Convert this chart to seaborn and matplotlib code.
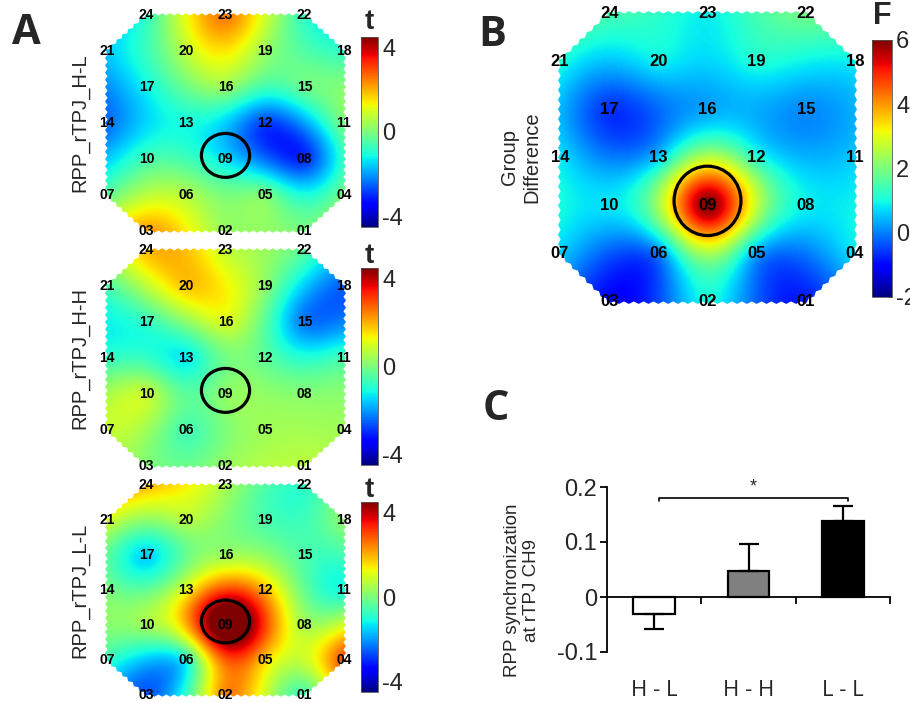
import numpy as np
import pandas as pd
import matplotlib
matplotlib.use("Agg")
import matplotlib.pyplot as plt
import seaborn as sns
from matplotlib.patches import Polygon, Ellipse

sns.set_theme(style="white")
plt.rcParams["font.family"] = ["Liberation Sans", "DejaVu Sans"]

# ---------------- data ----------------
channels = [f"{i:02d}" for i in range(1, 25)]
# grid layout of the 24 channels (column, row) on the probe
chan_col = [5, 3, 1, 6, 4, 2, 0, 5, 3, 1, 6, 4, 2, 0, 5, 3, 1, 6, 4, 2, 0, 5, 3, 1]
chan_row = [6, 6, 6, 5, 5, 5, 5, 4, 4, 4, 3, 3, 3, 3, 2, 2, 2, 1, 1, 1, 1, 0, 0, 0]

# t values per channel (01..24)
t_HL = [0.0, 0.3, 2.2, 0.0, 0.0, 0.6, -0.3, -3.0, -1.4, -0.6, 0.0, -2.8,
        -1.1, -2.4, -0.2, 0.3, -1.2, -0.8, 0.3, 0.7, -1.6, -0.8, 2.5, -0.8]
t_HH = [0.7, 0.3, 0.1, 0.4, 0.4, -0.6, 0.8, 0.1, 0.2, 0.8, -0.6, -0.3,
        -1.3, -0.8, -2.3, 1.0, -0.8, -2.5, 0.2, 1.8, -0.5, -0.4, 0.8, 1.9]
t_LL = [-0.6, 2.4, -2.6, 3.0, 1.7, -1.1, -0.8, 0.5, 5.6, 0.4, -1.0, 2.0,
        1.2, 0.0, -0.5, 0.4, -1.5, 0.2, -0.5, 0.6, 1.0, -0.8, 0.5, 1.9]
# F values per channel (group difference)
F_diff = [-0.8, 1.0, -1.0, 0.8, 0.3, 0.0, 0.6, 0.9, 6.0, 0.8, 0.6, 1.2,
          0.6, 0.8, 0.1, 0.3, -0.6, 0.9, 1.1, 0.9, 1.1, 1.9, 0.9, 1.5]

map_titles = ["RPP_rTPJ_H-L", "RPP_rTPJ_H-H", "RPP_rTPJ_L-L"]

groups = ["H-L", "H-H", "L-L"]
sync_mean = [-0.031, 0.047, 0.138]
sync_err = [0.027, 0.049, 0.027]
bar_colors = ["white", "#808080", "black"]

W, H = 910, 703
fig = plt.figure(figsize=(W / 100, H / 100), dpi=100)


def v4_interp(xc, yc, z, xi, yi):
    """Biharmonic spline interpolation (MATLAB griddata 'v4')."""
    p = np.asarray(xc, float) + 1j * np.asarray(yc, float)
    d = np.abs(p[:, None] - p[None, :])
    with np.errstate(divide="ignore", invalid="ignore"):
        G = np.where(d > 0, d ** 2 * (np.log(d) - 1), 0.0)
    w = np.linalg.solve(G, np.asarray(z, float))
    q = (xi + 1j * yi).ravel()
    di = np.abs(q[:, None] - p[None, :])
    with np.errstate(divide="ignore", invalid="ignore"):
        Gi = np.where(di > 0, di ** 2 * (np.log(di) - 1), 0.0)
    return (Gi @ w).reshape(xi.shape)


def zigzag_octagon(amp=0.05, step=0.1):
    corners = [(1, 0), (5, 0), (6, 1), (6, 5), (5, 6), (1, 6), (0, 5), (0, 1)]
    pts = []
    cx, cy = 3.0, 3.0
    for i in range(len(corners)):
        x0, y0 = corners[i]
        x1, y1 = corners[(i + 1) % len(corners)]
        L = np.hypot(x1 - x0, y1 - y0)
        n = max(int(L / step), 1)
        nx, ny = (y1 - y0) / L, -(x1 - x0) / L
        mx, my = (x0 + x1) / 2 - cx, (y0 + y1) / 2 - cy
        if nx * mx + ny * my < 0:
            nx, ny = -nx, -ny
        for k in range(n):
            t = k / n
            off = amp if k % 2 == 0 else -amp * 0.3
            pts.append((x0 + (x1 - x0) * t + nx * off, y0 + (y1 - y0) * t + ny * off))
    return pts


def draw_map(x0, x1, y0, y1, values, vmin, vmax, lab_fs, circ_w, circ_h, amp):
    m = 0.5
    sx = (x1 - x0) / 6
    sy = (y1 - y0) / 6
    left, right = x0 - m * sx, x1 + m * sx
    top, bottom = y0 - m * sy, y1 + m * sy
    ax = fig.add_axes([left / W, 1 - bottom / H, (right - left) / W, (bottom - top) / H])
    ax.patch.set_visible(False)
    ax.set_xlim(-m, 6 + m)
    ax.set_ylim(6 + m, -m)
    ax.axis("off")
    gx, gy = np.meshgrid(np.linspace(-0.1, 6.1, 250), np.linspace(-0.1, 6.1, 250))
    Z = v4_interp(chan_col, chan_row, values, gx, gy)
    im = ax.imshow(Z, extent=(-0.1, 6.1, 6.1, -0.1), origin="upper", cmap="jet",
                   vmin=vmin, vmax=vmax, interpolation="bilinear", aspect="auto")
    poly = Polygon(zigzag_octagon(amp=amp), closed=True, transform=ax.transData,
                   facecolor="none", edgecolor="none")
    ax.add_patch(poly)
    im.set_clip_path(poly)
    for name, c, r in zip(channels, chan_col, chan_row):
        ax.text(c, r, name, ha="center", va="center", fontsize=lab_fs,
                fontweight="bold", color="black", zorder=5)
    i9 = channels.index("09")
    ax.add_patch(Ellipse((chan_col[i9], chan_row[i9] - 0.1), circ_w, circ_h,
                         facecolor="none", edgecolor="black", lw=2.3, zorder=6))
    return ax, im


def draw_cbar(im, x0, x1, y0, y1, ticks, label, label_y, fs=17):
    cax = fig.add_axes([x0 / W, 1 - y1 / H, (x1 - x0) / W, (y1 - y0) / H])
    cb = fig.colorbar(im, cax=cax, ticks=ticks)
    cb.outline.set_linewidth(0.6)
    cb.outline.set_edgecolor("#555555")
    cax.tick_params(labelsize=fs, length=3, width=0.6, direction="in", pad=3)
    cb.set_ticklabels([f"{t:g}" for t in ticks])
    fig.text(((x0 + x1) / 2) / W, 1 - label_y / H, label, ha="center", va="center",
             fontsize=20 if label == "t" else 22, fontweight="bold")
    return cb


# ---------------- Panel A ----------------
a_rows = [(15, 231), (250, 466), (485, 695)]
a_cbars = [(37, 227, 22), (268, 465, 256), (502, 692, 490)]
for vals, title, (y0, y1), (cy0, cy1, ly) in zip([t_HL, t_HH, t_LL], map_titles, a_rows, a_cbars):
    ax, im = draw_map(107, 344, y0, y1, vals, -4.5, 4.5, 10, 1.22, 1.22, 0.05)
    draw_cbar(im, 361, 378, cy0, cy1, [-4, 0, 4], "t", ly)
    fig.text(80 / W, 1 - ((y0 + y1) / 2) / H, title, rotation=90, ha="center",
             va="center", fontsize=14.5)

# ---------------- Panel B ----------------
axb, imb = draw_map(560, 855, 13, 302, F_diff, -2, 6, 12, 1.36, 1.44, 0.04)
draw_cbar(imb, 872, 892, 40, 297, [-2, 0, 2, 4, 6], "F", 16)
fig.text(521 / W, 1 - 157 / H, "Group\nDifference", rotation=90, ha="center",
         va="center", fontsize=14.5, multialignment="center")

# ---------------- Panel C ----------------
axc = fig.add_axes([607 / W, 1 - 652 / H, (890 - 607) / W, (652 - 476) / H])
axc.patch.set_visible(False)
df = pd.DataFrame({"group": groups, "sync": sync_mean})
sns.barplot(data=df, x="group", y="sync", hue="group", palette=bar_colors,
            edgecolor="black", linewidth=1.6, width=0.445, legend=False, ax=axc,
            zorder=2)
lower = [e if v < 0 else 0 for v, e in zip(sync_mean, sync_err)]
upper = [e if v >= 0 else 0 for v, e in zip(sync_mean, sync_err)]
axc.errorbar(range(len(groups)), sync_mean, yerr=[lower, upper], fmt="none",
             ecolor="black", elinewidth=1.6, capsize=7, capthick=1.6, zorder=3)
axc.set_xlim(-0.5, 2.5)
axc.set_ylim(-0.1, 0.22)
for s in ["top", "right"]:
    axc.spines[s].set_visible(False)
axc.spines["bottom"].set_position(("data", 0))
axc.spines["left"].set_bounds(-0.1, 0.2)
for s in ["left", "bottom"]:
    axc.spines[s].set_color("black")
    axc.spines[s].set_linewidth(1.3)
axc.set_yticks([-0.1, 0, 0.1, 0.2])
axc.set_yticklabels(["-0.1", "0", "0.1", "0.2"])
axc.tick_params(axis="y", labelsize=17, length=5, width=1.3, direction="out",
                left=True, color="black", pad=2)
axc.set_xticks(range(len(groups)))
axc.set_xticklabels(["H - L", "H - H", "L - L"])
axc.set_xticks([0.5, 1.5, 2.5], minor=True)
axc.tick_params(axis="x", which="major", length=0, labelsize=16, pad=60)
axc.tick_params(axis="x", which="minor", length=5, width=1.3, direction="out",
                bottom=True, color="black")
for lab in axc.get_xticklabels():
    lab.set_family(["Open Sans", "DejaVu Sans"])
axc.set_xlabel("")
axc.set_ylabel("")
axc.grid(False)
# significance bracket
axc.plot([0.05, 0.05, 2.05, 2.05], [0.175, 0.18, 0.18, 0.175], color="black", lw=1.2)
axc.text(1.05, 0.184, "*", ha="center", va="bottom", fontsize=13)
fig.text(522 / W, 1 - 590 / H, "RPP synchronization\nat rTPJ CH9", rotation=90,
         ha="center", va="center", fontsize=13.5, multialignment="center")

# ---------------- panel letters ----------------
for letter, px, py in [("A", 26, 33), ("B", 492, 35), ("C", 496, 410)]:
    fig.text(px / W, 1 - py / H, letter, ha="center", va="center", fontsize=30,
             fontweight="bold", family=["Open Sans", "DejaVu Sans"])

fig.savefig("out.png", dpi=100)
